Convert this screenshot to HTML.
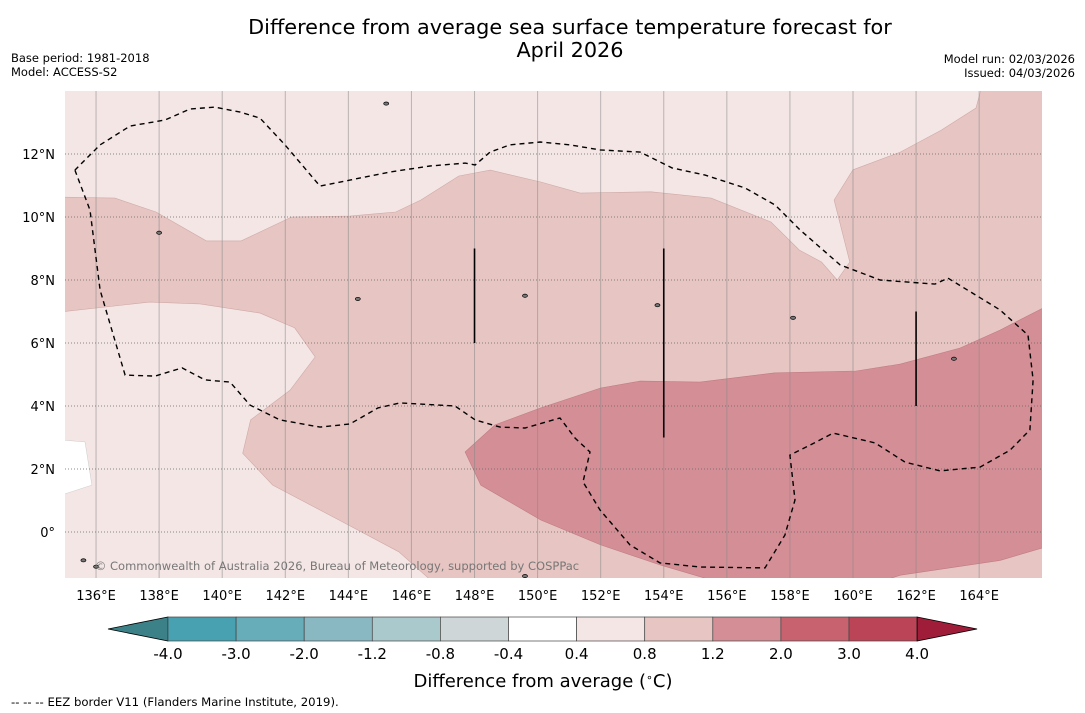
<!DOCTYPE html>
<html><head><meta charset="utf-8"><style>
body{margin:0;background:#fff;width:1085px;height:713px;overflow:hidden;font-family:"DejaVu Sans","Liberation Sans",sans-serif;}
svg{display:block}
</style></head><body>
<svg id="chart" width="1085" height="713" font-family="DejaVu Sans, Liberation Sans, sans-serif">
<text x="570" y="34" font-size="20.8" text-anchor="middle">Difference from average sea surface temperature forecast for</text>
<text x="570" y="57" font-size="20.8" text-anchor="middle">April 2026</text>
<text x="11" y="62" font-size="11.5">Base period: 1981-2018</text>
<text x="11" y="76" font-size="11.5">Model: ACCESS-S2</text>
<text x="1075" y="63" font-size="11.5" text-anchor="end">Model run: 02/03/2026</text>
<text x="1075" y="77" font-size="11.5" text-anchor="end">Issued: 04/03/2026</text>
<defs><clipPath id="mapclip"><rect x="65" y="91" width="977" height="487"/></clipPath></defs>
<g id="map" clip-path="url(#mapclip)"></g>
<g id="axes"></g>
<g id="cbar"></g>
<text x="543" y="687" font-size="18" text-anchor="middle">Difference from average (<tspan baseline-shift="super" font-size="11">∘</tspan>C)</text>
<text x="11" y="706" font-size="11.7">--  --  -- EEZ border V11 (Flanders Marine Institute, 2019).</text>
</svg>
<script>
const NS="http://www.w3.org/2000/svg";
const lonTicks=[136,138,140,142,144,146,148,150,152,154,156,158,160,162,164];
const latTicks=[0,2,4,6,8,10,12];
const cbLevels=["-4.0","-3.0","-2.0","-1.2","-0.8","-0.4","0.4","0.8","1.2","2.0","3.0","4.0"];
const cbColors=["#48a1b1","#67acb9","#89b8c3","#aac9cd","#ced6d7","#ffffff","#f4e6e5","#e6c5c2","#d48e95","#c8626f","#bb4557"];
const mediumRegion=[[135,10.63],[136.6,10.6],[137.9,10.16],[139.5,9.24],[140.6,9.24],[142.2,10.0],[144.05,10.03],[145.5,10.16],[146.3,10.54],[147.5,11.3],[148.5,11.49],[150.1,11.11],[151.35,10.76],[153.6,10.8],[155.5,10.6],[157.4,9.84],[158.3,8.95],[159.0,8.57],[159.5,8.0],[159.9,8.57],[159.4,10.54],[160.0,11.5],[161.5,12.06],[162.8,12.76],[163.9,13.46],[164.1,14.2],[166.2,14.2],[166.2,-1.7],[146.8,-1.7],[145.6,-0.63],[143.7,0.38],[141.6,1.49],[140.65,2.5],[140.9,3.56],[142.15,4.5],[142.95,5.56],[142.3,6.48],[141.2,6.95],[139.3,7.24],[137.7,7.3],[135,7.0]];
const darkRegion=[[147.7,2.54],[148.65,3.4],[150.1,3.94],[152.0,4.57],[153.25,4.79],[155.15,4.76],[157.5,5.05],[160.1,5.11],[161.5,5.33],[163.4,5.84],[164.66,6.41],[166.2,7.2],[166.2,-0.45],[164.66,-0.9],[161.5,-1.37],[160.5,-1.7],[156.1,-1.7],[153.9,-1.05],[152.0,-0.41],[150.1,0.38],[148.2,1.49]];
const whiteRegion=[[134.9,2.92],[135.65,2.86],[135.87,1.49],[134.9,1.17]];
const eezLine=[[135.33,11.49],[135.81,10.22],[136.13,7.68],[136.92,4.98],[137.87,4.95],[138.73,5.21],[139.45,4.83],[140.25,4.76],[140.88,4.03],[141.83,3.56],[143.1,3.33],[144.05,3.43],[144.94,3.94],[145.64,4.1],[147.38,4.0],[148.02,3.56],[148.81,3.33],[149.6,3.3],[150.71,3.62],[151.19,2.98],[151.66,2.54],[151.44,1.59],[151.98,0.7],[152.93,-0.41],[153.88,-0.98],[155.15,-1.11],[157.21,-1.14],[157.84,-0.1],[158.16,1.02],[158.0,2.44],[158.64,2.76],[159.37,3.14],[160.7,2.83],[161.65,2.22],[162.76,1.94],[164.03,2.06],[164.98,2.6],[165.61,3.24],[165.71,4.83],[165.55,6.25],[164.66,7.05],[163.01,8.06],[162.6,7.87],[160.86,8.0],[159.59,8.48],[158.32,9.59],[157.53,10.38],[156.58,10.92],[155.31,11.33],[154.26,11.56],[153.25,12.06],[151.98,12.13],[151.03,12.29],[150.08,12.38],[149.12,12.29],[148.49,12.06],[148.02,11.65],[147.7,11.71],[146.59,11.62],[145.32,11.43],[144.05,11.17],[143.1,10.98],[141.99,12.29],[141.2,13.14],[140.57,13.33],[139.77,13.49],[138.98,13.43],[138.19,13.08],[137.08,12.89],[136.13,12.29],[135.33,11.49]];
const segLons=[148,154,162];
const segLat0=[6,3,4];
const segLat1=[9,9,7];
const islands=[[145.2,13.6],[138.0,9.5],[153.8,7.2],[158.1,6.8],[163.2,5.5],[144.3,7.4],[149.6,7.5],[135.6,-0.9],[136,-1.1],[149.6,-1.4]];

const X=lon=>64.5+(lon-135)*31.54;
const Y=lat=>91+(14-lat)*31.5;
const map=document.getElementById('map'), axes=document.getElementById('axes'), cbar=document.getElementById('cbar');
function mk(tag,attrs,parent){const e=document.createElementNS(NS,tag);for(const k in attrs)e.setAttribute(k,attrs[k]);parent.appendChild(e);return e;}
const pts=a=>a.map(p=>X(p[0]).toFixed(1)+","+Y(p[1]).toFixed(1)).join(" ");

let bg=mk('rect',{x:65,y:91,width:977,height:487,fill:"#f4e6e5"},map);


let w=mk('polygon',{points:pts(whiteRegion),fill:"#ffffff",stroke:"#ccc","stroke-width":0.5},map);


let m=mk('polygon',{points:pts(mediumRegion),fill:"#e6c5c2",stroke:"#cfaaa8","stroke-width":0.6},map);


let d=mk('polygon',{points:pts(darkRegion),fill:"#d48e95",stroke:"#c07c83","stroke-width":0.6},map);



lonTicks.forEach(l=>{
  let g=mk('line',{x1:X(l),x2:X(l),y1:91,y2:578,stroke:"#888","stroke-opacity":0.55,"stroke-width":1},map);
  
  
  let t=mk('text',{x:X(l),y:600,"font-size":13,"text-anchor":"middle"},axes);
  t.textContent=l+"°E";
  
  
});
latTicks.forEach(l=>{
  let g=mk('line',{x1:65,x2:1042,y1:Y(l),y2:Y(l),stroke:"#666","stroke-width":0.7,"stroke-dasharray":"1,2"},map);
  
  
  let t=mk('text',{x:55,y:Y(l)+5,"font-size":13,"text-anchor":"end"},axes);
  t.textContent=l===0?"0°":l+"°N";
  
  
});
islands.forEach(p=>{
  let e=mk('ellipse',{cx:X(p[0]),cy:Y(p[1]),rx:2.5,ry:1.6,fill:"#777",stroke:"#000","stroke-width":0.7},map);
  
  
});
let eez=mk('polyline',{points:pts(eezLine),fill:"none",stroke:"#000","stroke-width":1.4,"stroke-dasharray":"5,4"},map);


segLons.forEach((l,i)=>{
  let s=mk('line',{x1:X(l),x2:X(l),y1:Y(segLat0[i]),y2:Y(segLat1[i]),stroke:"#000","stroke-width":1.6},map);
  
  
});
let cr=mk('text',{x:337,y:570,"font-size":11.5,"text-anchor":"middle",fill:"#777"},map);
cr.textContent="© Commonwealth of Australia 2026, Bureau of Meteorology, supported by COSPPac";



const cx0=168, cw=68.1, cy=617, ch=24;
let lt=mk('polygon',{points:`108,${cy+ch/2} ${cx0},${cy} ${cx0},${cy+ch}`,fill:"#3d8188",stroke:"#000","stroke-width":0.8},cbar);


cbColors.forEach((c,i)=>{
  let r=mk('rect',{x:cx0+i*cw,y:cy,width:cw,height:ch,fill:c,stroke:"#444","stroke-width":0.7},cbar);
  
  
});
const xe=cx0+cbColors.length*cw;
let rt=mk('polygon',{points:`${xe},${cy} ${xe+60},${cy+ch/2} ${xe},${cy+ch}`,fill:"#a01d3a",stroke:"#000","stroke-width":0.8},cbar);


cbLevels.forEach((v,i)=>{
  let t=mk('text',{x:cx0+i*cw,y:659,"font-size":15,"text-anchor":"middle"},cbar);
  t.textContent=v;
  
  
});
</script>
</body></html>
